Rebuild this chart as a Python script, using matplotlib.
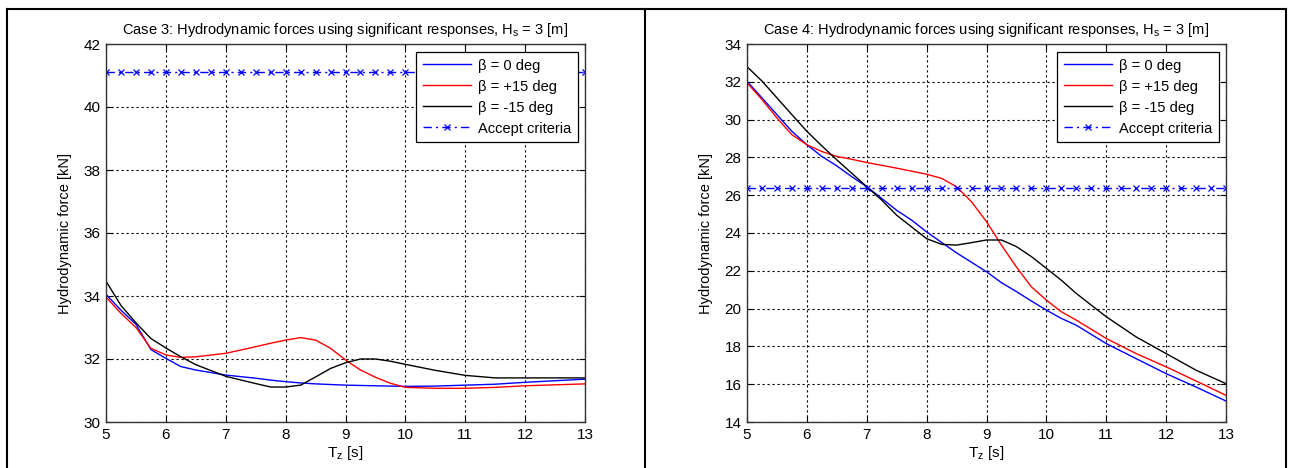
import matplotlib
matplotlib.use("Agg")
import matplotlib.pyplot as plt
from matplotlib.lines import Line2D
import numpy as np

plt.rcParams["font.family"] = ["Liberation Sans", "DejaVu Sans"]
plt.rcParams["mathtext.fontset"] = "custom"
plt.rcParams["mathtext.rm"] = "Liberation Sans"

# ---- Case 3 data ----
c3_tz = [5, 5.25, 5.5, 5.75, 6, 6.25, 6.5, 7, 7.5, 7.75, 8, 8.25, 8.5, 8.75, 9,
         9.25, 9.5, 9.75, 10, 10.5, 11, 11.5, 12, 12.5, 13]
c3_b0 = [34.05, 33.55, 33.1, 32.3, 32.02, 31.76, 31.65, 31.49, 31.39, 31.33, 31.28, 31.24, 31.21, 31.19, 31.17,
         31.16, 31.15, 31.14, 31.13, 31.14, 31.17, 31.2, 31.26, 31.31, 31.36]
c3_bp15 = [33.97, 33.45, 33.0, 32.34, 32.13, 32.05, 32.07, 32.18, 32.39, 32.5, 32.6, 32.68, 32.6, 32.34, 31.97,
           31.65, 31.42, 31.23, 31.1, 31.07, 31.07, 31.1, 31.15, 31.18, 31.21]
c3_bm15 = [34.47, 33.7, 33.15, 32.65, 32.35, 32.07, 31.82, 31.45, 31.22, 31.11, 31.11, 31.17, 31.43, 31.7, 31.88,
           32.0, 32.0, 31.93, 31.83, 31.64, 31.48, 31.4, 31.4, 31.4, 31.4]
c3_accept = 41.1

# ---- Case 4 data ----
c4_tz = [5, 5.25, 5.5, 5.75, 6, 6.25, 6.5, 6.75, 7, 7.25, 7.5, 7.75, 8, 8.25, 8.5, 8.75,
         9, 9.25, 9.5, 9.75, 10, 10.25, 10.5, 11, 11.5, 12, 12.5, 13]
c4_b0 = [32.03, 31.15, 30.26, 29.38, 28.67, 28.05, 27.55, 26.98, 26.45, 25.83, 25.2, 24.68, 24.06, 23.5, 22.95, 22.45,
         21.95, 21.37, 20.9, 20.4, 19.92, 19.48, 19.12, 18.15, 17.35, 16.56, 15.85, 15.11]
c4_bp15 = [31.95, 31.06, 30.09, 29.2, 28.67, 28.31, 28.05, 27.9, 27.73, 27.58, 27.43, 27.27, 27.11, 26.89, 26.45, 25.65,
           24.6, 23.36, 22.2, 21.15, 20.45, 19.83, 19.39, 18.42, 17.62, 16.92, 16.17, 15.41]
c4_bm15 = [32.8, 32.04, 31.15, 30.26, 29.38, 28.61, 27.87, 27.16, 26.45, 25.74, 24.94, 24.32, 23.7, 23.4, 23.36, 23.49,
           23.63, 23.63, 23.28, 22.75, 22.13, 21.5, 20.8, 19.57, 18.5, 17.62, 16.74, 16.03]
c4_accept = 26.4

accept_tz = np.arange(5, 13.01, 0.25)

labels = ["β = 0 deg", "β = +15 deg", "β = -15 deg", "Accept criteria"]

panels = [
    dict(title="Case 3: Hydrodynamic forces using significant responses, H$_\\mathregular{s}$ = 3 [m]",
         tz=c3_tz, series=[c3_b0, c3_bp15, c3_bm15], accept=c3_accept,
         ylim=(30, 42), yticks=np.arange(30, 43, 2), left=106),
    dict(title="Case 4: Hydrodynamic forces using significant responses, H$_\\mathregular{s}$ = 3 [m]",
         tz=c4_tz, series=[c4_b0, c4_bp15, c4_bm15], accept=c4_accept,
         ylim=(14, 34), yticks=np.arange(14, 35, 2), left=747),
]
colors = ["#0000ff", "#ff0000", "#000000"]

W, H = 1289, 468
fig = plt.figure(figsize=(W / 100, H / 100), dpi=100)

for p in panels:
    ax = fig.add_axes([p["left"] / W, 1 - 422 / H, 479 / W, 378 / H])
    for vals, col, lab in zip(p["series"], colors, labels[:3]):
        ax.plot(p["tz"], vals, color=col, lw=1.0, label=lab)
    ax.plot(accept_tz, [p["accept"]] * len(accept_tz), color="#0000ff", lw=1.0,
            linestyle=(0, (6, 3, 1.5, 3)), marker="x", markersize=5, markeredgewidth=0.9,
            label=labels[3])
    ax.set_xlim(5, 13)
    ax.set_ylim(*p["ylim"])
    ax.set_xticks(range(5, 14))
    ax.set_yticks(p["yticks"])
    ax.grid(True, color="black", linestyle=(0, (2, 2.5)), linewidth=0.8)
    ax.tick_params(direction="in", top=True, right=True, length=4, labelsize=11, pad=4)
    for s in ax.spines.values():
        s.set_color("#333333")
        s.set_linewidth(1.0)
    ax.set_title(p["title"], fontsize=10.5, pad=7)
    ax.set_xlabel("T$_\\mathregular{z}$ [s]", fontsize=11, labelpad=2)
    ax.set_ylabel("Hydrodynamic force [kN]", fontsize=10.5, labelpad=8)
    leg = ax.legend(loc="upper right", bbox_to_anchor=(1 - 7 / 479, 1 - 8 / 378),
                    fontsize=10.5, handlelength=3.3, fancybox=False, framealpha=1,
                    borderaxespad=0, labelspacing=0.48, handletextpad=0.5, borderpad=0.45)
    leg.get_frame().set_edgecolor("black")
    leg.get_frame().set_linewidth(0.9)

# outer frame like the source document table
for x in (7, 645, 1286):
    fig.add_artist(Line2D([x / W, x / W], [0, 1 - 9 / H], color="black", lw=1.5))
fig.add_artist(Line2D([7 / W, 1286 / W], [1 - 9 / H, 1 - 9 / H], color="black", lw=1.5))

fig.savefig("out.png", dpi=100)
